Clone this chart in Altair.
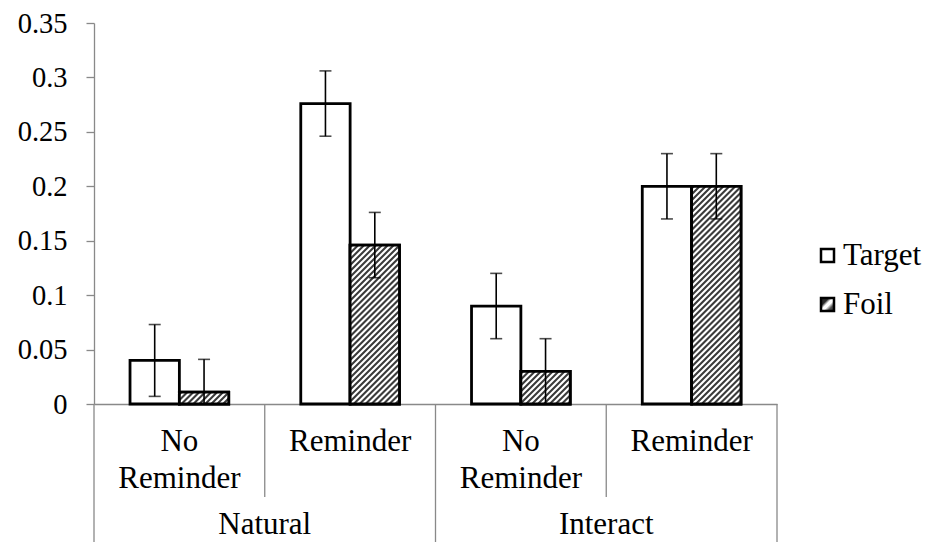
import math
import altair as alt
import pandas as pd

# ---- data ----
groups = ["Natural", "Natural", "Interact", "Interact"]
conditions = ["No Reminder", "Reminder", "No Reminder", "Reminder"]
cond_labels = ["No\nReminder", "Reminder", "No\nReminder", "Reminder"]
series = ["Target", "Foil"]
target_values = [0.040, 0.276, 0.090, 0.200]
foil_values = [0.011, 0.146, 0.030, 0.200]
target_errors = [0.033, 0.030, 0.030, 0.030]
foil_errors = [0.030, 0.030, 0.030, 0.030]
y_ticks = [0, 0.05, 0.1, 0.15, 0.2, 0.25, 0.3, 0.35]
group_names = ["Natural", "Interact"]

keys = [f"{g}|{c}" for g, c in zip(groups, conditions)]

rows = []
for i, k in enumerate(keys):
    rows.append(dict(key=k, series="Target", value=target_values[i],
                     lo=target_values[i] - target_errors[i], hi=target_values[i] + target_errors[i]))
    rows.append(dict(key=k, series="Foil", value=foil_values[i],
                     lo=foil_values[i] - foil_errors[i], hi=foil_values[i] + foil_errors[i]))
df = pd.DataFrame(rows)

# ---- layout / style ----
W, H = 683, 381
YMAX = 0.35
GRAY = "#898989"
FONT = "Liberation Serif"
FS = 31
FS_AX = 28.5
BAR_W = 49.3

x_scale = alt.Scale(domain=keys, paddingInner=0, paddingOuter=0)
x_axis = alt.Axis(labels=False, ticks=False, title=None, grid=False,
                  domainColor=GRAY, domainWidth=1.3)
y_scale = alt.Scale(domain=[0, YMAX], nice=False)
y_axis = alt.Axis(values=y_ticks, format=".2~f", title=None, grid=False,
                  domainColor=GRAY, domainWidth=1.3, tickColor=GRAY, tickWidth=1.3,
                  tickSize=8, labelPadding=19, labelFont=FONT, labelFontSize=FS_AX,
                  labelColor="black")

X = alt.X("key:N", scale=x_scale, axis=x_axis)
XO = alt.XOffset("series:N", scale=alt.Scale(domain=series, paddingInner=0, paddingOuter=0.73))


def hatch(w, h, period=4.2, dark="#3c3c3c"):
    k = (w + h) * w * h / (w * w + h * h)
    x2 = k / h
    y2 = k / w
    D = (w + h) / math.sqrt(2)
    n = D / period
    stops = []
    j = 0
    phases = [(0.0, "white"), (0.22, dark), (0.5, dark), (0.72, "white")]
    while True:
        done = False
        for ph, col in phases:
            off = (j + ph) / n
            if off > 1:
                done = True
                break
            stops.append({"offset": round(off, 4), "color": col})
        if done:
            break
        j += 1
    return {"gradient": "linear", "x1": 0, "y1": 0, "x2": round(x2, 4), "y2": round(y2, 4),
            "stops": stops}


legend_grad = ("{gradient: 'linear', x1: 0, y1: 0, x2: 1, y2: 1, stops: ["
               "{offset: 0, color: '#2a2a2a'}, {offset: 0.3, color: '#2a2a2a'}, "
               "{offset: 0.45, color: 'white'}, {offset: 0.58, color: 'white'}, "
               "{offset: 0.75, color: '#555555'}, {offset: 1, color: '#2a2a2a'}]}")

base = alt.Chart(df)

bars = base.mark_bar(stroke="black", strokeWidth=2.8).encode(
    x=X, xOffset=XO,
    y=alt.Y("value:Q", scale=y_scale, axis=y_axis),
    fill=alt.Fill("series:N",
                  scale=alt.Scale(domain=series, range=["white", {"expr": legend_grad}]),
                  legend=alt.Legend(title=None, orient="none", legendX=718, legendY=217,
                                    labelFont=FONT, labelFontSize=FS, labelColor="black",
                                    symbolType="square", symbolSize=169,
                                    symbolStrokeColor="black", symbolStrokeWidth=2.5,
                                    rowPadding=17, labelOffset=0, padding=0)),
)

foil_layers = []
for i, k in enumerate(keys):
    h = foil_values[i] / YMAX * H
    foil_layers.append(
        base.transform_filter((alt.datum.key == k) & (alt.datum.series == "Foil"))
        .mark_bar(stroke="black", strokeWidth=2.8, fill=hatch(BAR_W, h))
        .encode(x=X, xOffset=XO, y=alt.Y("value:Q", scale=y_scale, axis=y_axis))
    )

err_rule = base.mark_rule(color="black", strokeWidth=1.6, clip=True).encode(
    x=X, xOffset=XO,
    y=alt.Y("lo:Q", scale=y_scale, axis=y_axis), y2="hi:Q")
cap_hi = base.mark_tick(color="black", thickness=1.6, size=12, clip=True,
                        orient="horizontal").encode(
    x=X, xOffset=XO, y=alt.Y("hi:Q", scale=y_scale, axis=y_axis))
cap_lo = base.mark_tick(color="black", thickness=1.6, size=12, clip=True,
                        orient="horizontal").encode(
    x=X, xOffset=XO, y=alt.Y("lo:Q", scale=y_scale, axis=y_axis))

# category axis: separators and labels
sep_inner = alt.Chart(pd.DataFrame({"key": [keys[1], keys[3]]})).mark_rule(
    color=GRAY, strokeWidth=1.3).encode(
    x=alt.X("key:N", bandPosition=0, scale=x_scale, axis=x_axis),
    y=alt.value(H), y2=alt.value(H + 93))
sep_outer = alt.Chart(pd.DataFrame({"key": [keys[0], keys[2]]})).mark_rule(
    color=GRAY, strokeWidth=1.3).encode(
    x=alt.X("key:N", bandPosition=0, scale=x_scale, axis=x_axis),
    y=alt.value(H), y2=alt.value(H + 160))
sep_end = alt.Chart(pd.DataFrame({"key": [keys[3]]})).mark_rule(
    color=GRAY, strokeWidth=1.3).encode(
    x=alt.X("key:N", bandPosition=1, scale=x_scale, axis=x_axis),
    y=alt.value(H), y2=alt.value(H + 160))

cond_df = pd.DataFrame({"key": keys, "label": cond_labels})
cond_text = alt.Chart(cond_df).mark_text(
    font=FONT, fontSize=FS, color="black", baseline="middle", align="center",
    lineBreak="\n", lineHeight=37).encode(
    x=alt.X("key:N", scale=x_scale, axis=x_axis),
    y=alt.value(H + 38), text="label:N")

grp_df = pd.DataFrame({"key": [keys[1], keys[3]], "label": group_names})
grp_text = alt.Chart(grp_df).mark_text(
    font=FONT, fontSize=FS, color="black", baseline="middle", align="center").encode(
    x=alt.X("key:N", bandPosition=0, scale=x_scale, axis=x_axis),
    y=alt.value(H + 121), text="label:N")

chart = alt.layer(
    bars, *foil_layers, err_rule, cap_hi, cap_lo,
    sep_inner, sep_outer, sep_end, cond_text, grp_text
).properties(
    width=W, height=H,
    autosize=alt.AutoSizeParams(type="none"),
    padding={"left": 86, "top": 15, "right": 146, "bottom": 138},
).configure_view(stroke=None)

chart.save("out.html", embed_options={"renderer": "svg", "actions": False})
